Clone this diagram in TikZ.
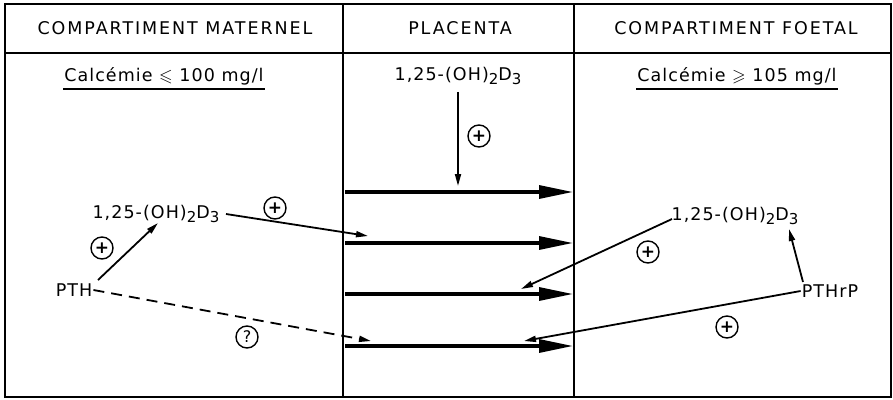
\documentclass[tikz,border=0pt]{standalone}
\usepackage{fontspec}
\setmainfont{DejaVu Sans}[LetterSpace=11]
\usepackage{amssymb}
\usetikzlibrary{arrows.meta}
\newcommand{\sbs}[1]{\raisebox{-0.4ex}{\fontsize{15}{15}\selectfont #1}}
\newcommand{\vitD}{1,25-(OH)\sbs{2}D\sbs{3}}
\begin{document}
\begin{tikzpicture}[x=1pt,y=-1pt,
  frame/.style={line width=1.8pt},
  head/.style={font=\fontsize{17.5}{17.5}\selectfont, inner sep=0pt},
  lbl/.style={font=\fontsize{17.5}{17.5}\selectfont\addfontfeature{LetterSpace=6}, inner sep=1pt},
  sgn/.style={circle, draw, line width=1.4pt, minimum size=22pt, inner sep=0pt, font=\fontsize{17}{17}\selectfont\bfseries},
  thick arrow/.style={line width=3.2pt, -{Triangle[length=34pt,width=13pt]}},
  thin arrow/.style={line width=1.8pt, -{Triangle[length=12pt,width=6pt]}},
]
\useasboundingbox (0,0) rectangle (893,399);
% frame
\draw[frame] (5,4) rectangle (891,397);
\draw[frame] (5,53) -- (891,53);
\draw[frame] (343,4) -- (343,397);
\draw[frame] (574,4) -- (574,397);
% headers
\node[head] (h1) at (175,28) {COMPARTIMENT MATERNEL};
\node[head] (h2) at (460,28) {PLACENTA};
\node[head] (h3) at (736,28) {COMPARTIMENT FOETAL};
% calcemie
\node[lbl] (c1) at (164,76) {Calcémie $\leqslant$ 100 mg/l};
\draw[line width=1.2pt] ([yshift=-3pt]c1.south west) -- ([yshift=-3pt]c1.south east);
\node[lbl] (c2) at (737,76) {Calcémie $\geqslant$ 105 mg/l};
\draw[line width=1.2pt] ([yshift=-3pt]c2.south west) -- ([yshift=-3pt]c2.south east);
% placenta vitamin D
\node[lbl] (pd) at (458,76) {\vitD};
\coordinate (pdend) at (458,186);
\draw[thin arrow, shorten <=6pt] (pd.south) -- (pdend);
\node[sgn] (s1) at (479,136) {+};
% thick horizontal arrows
\foreach \i/\y in {1/192,2/243,3/294,4/346} {
  \coordinate (L\i) at (345,\y);
  \coordinate (R\i) at (573,\y);
  \draw[thick arrow] (L\i) -- (R\i);
}
% maternal
\node[lbl] (md) at (156,214) {\vitD};
\node[lbl] (pth) at (74,290) {PTH};
\draw[thin arrow] (98,280) -- (158,223);
\node[sgn] (s2) at (102,248) {+};
\coordinate (mdend) at (368,236);
\draw[thin arrow] (226,214) -- (mdend);
\node[sgn] (s3) at (275,208) {+};
\coordinate (qend) at (371,341);
\draw[line width=1.8pt, dash pattern=on 11pt off 7pt, -{Triangle[length=12pt,width=6pt]}] (pth.east) -- (qend);
\node[sgn, font=\fontsize{16}{16}\selectfont] (q) at (247,337) {?};
% foetal
\node[lbl] (fd) at (735,216) {\vitD};
\node[lbl] (pthrp) at (830,291) {PTHrP};
\coordinate (fdend) at (521,289);
\draw[thin arrow] (672,219) -- (fdend);
\node[sgn] (s4) at (648,252) {+};
\draw[thin arrow] (803,282) -- (789,229);
\coordinate (rpend) at (524,341);
\draw[thin arrow] (pthrp.west) -- (rpend);
\node[sgn] (s5) at (727,327) {+};
\end{tikzpicture}
\end{document}
